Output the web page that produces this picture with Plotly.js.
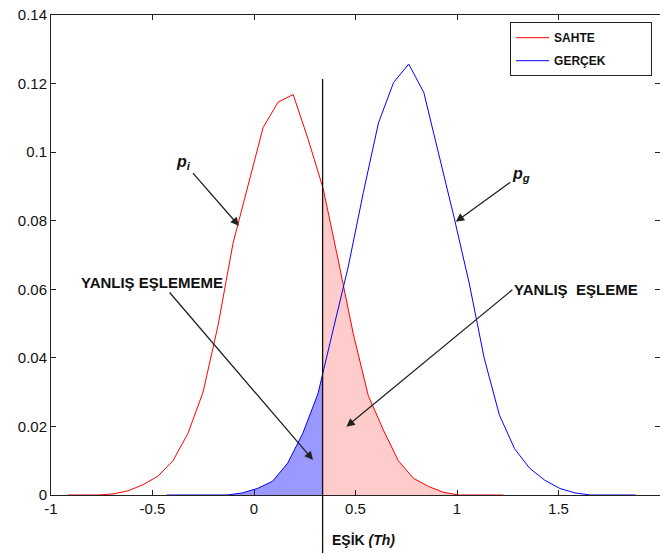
<!DOCTYPE html>
<html>
<head>
<meta charset="utf-8">
<script src="https://cdn.plot.ly/plotly-3.0.1.min.js"></script>
<style>
  html, body { margin: 0; padding: 0; background: #fff; overflow: hidden; }
  #chart { width: 660px; height: 553px; }
</style>
</head>
<body>
<div id="chart"></div>
<script>
// Impostor (SAHTE) score distribution
const sahteX = [-0.917, -0.843, -0.769, -0.695, -0.621, -0.547, -0.473, -0.399, -0.325, -0.251,
                -0.177, -0.103, -0.029, 0.045, 0.119, 0.193, 0.267, 0.341, 0.415, 0.489,
                0.563, 0.637, 0.711, 0.785, 0.859, 0.933, 1.007, 1.081, 1.155, 1.229];
const sahteY = [0, 0, 0, 0.0003, 0.0012, 0.0030, 0.0055, 0.0100, 0.0180, 0.0300,
                0.0495, 0.0735, 0.0905, 0.1072, 0.1146, 0.1168, 0.1037, 0.0893, 0.0685, 0.0470,
                0.0290, 0.0190, 0.0100, 0.0049, 0.0025, 0.0008, 0, 0, 0, 0];

// Genuine (GERÇEK) score distribution
const gercekX = [-0.430, -0.3555, -0.281, -0.2065, -0.132, -0.0575, 0.017, 0.0915, 0.166, 0.2405,
                 0.315, 0.3895, 0.464, 0.5385, 0.613, 0.6875, 0.762, 0.8365, 0.911, 0.9855,
                 1.060, 1.1345, 1.209, 1.2835, 1.358, 1.4325, 1.507, 1.5815, 1.656, 1.7305,
                 1.805, 1.8795];
const gercekY = [0, 0, 0, 0, 0, 0.0006, 0.0019, 0.0040, 0.0093, 0.0180,
                 0.0295, 0.0481, 0.0665, 0.0882, 0.1085, 0.1203, 0.1257, 0.1174, 0.0995, 0.0810,
                 0.0618, 0.0398, 0.0233, 0.0135, 0.0078, 0.0043, 0.0019, 0.0006, 0, 0,
                 0, 0];

// Decision threshold (Th) and the height of its marker line
const esik = 0.338;
const esikTop = 0.1213;

const xTickVals = [-1, -0.5, 0, 0.5, 1, 1.5, 2];
const xTickText = ['-1', '-0.5', '0', '0.5', '1', '1.5', '2'];
const yTickVals = [0, 0.02, 0.04, 0.06, 0.08, 0.1, 0.12, 0.14];
const yTickText = ['0', '0.02', '0.04', '0.06', '0.08', '0.1', '0.12', '0.14'];

// Linear interpolation of a polyline at x = t
function valueAt(xs, ys, t) {
  for (let i = 0; i < xs.length - 1; i++) {
    if (t >= xs[i] && t <= xs[i + 1]) {
      const f = (t - xs[i]) / (xs[i + 1] - xs[i]);
      return ys[i] + f * (ys[i + 1] - ys[i]);
    }
  }
  return 0;
}

// Part of a curve on one side of the threshold, closed at the threshold itself
function sideOf(xs, ys, t, left) {
  const px = [], py = [];
  const yt = valueAt(xs, ys, t);
  if (!left) { px.push(t); py.push(yt); }
  xs.forEach((x, i) => {
    if (left ? x < t : x > t) { px.push(x); py.push(ys[i]); }
  });
  if (left) { px.push(t); py.push(yt); }
  return { x: px, y: py };
}

const fa = sideOf(gercekX, gercekY, esik, true);   // false non-match area
const fe = sideOf(sahteX, sahteY, esik, false);    // false match area

const font = 'Liberation Sans, Arial, sans-serif';
// trailing non-breaking spaces leave room on the right of the legend box
const pad = '&nbsp;'.repeat(12);

const traces = [
  { x: fa.x, y: fa.y, type: 'scatter', mode: 'lines', fill: 'tozeroy',
    fillcolor: '#9999ff', line: { width: 0 }, showlegend: false, hoverinfo: 'skip' },
  { x: fe.x, y: fe.y, type: 'scatter', mode: 'lines', fill: 'tozeroy',
    fillcolor: '#ffcccc', line: { width: 0 }, showlegend: false, hoverinfo: 'skip' },
  { x: sahteX, y: sahteY, type: 'scatter', mode: 'lines', name: 'SAHTE',
    legendgroup: 's', line: { color: '#ff0000', width: 1 } },
  { x: gercekX, y: gercekY, type: 'scatter', mode: 'lines', name: 'GERÇEK' + pad,
    legendgroup: 'g', line: { color: '#0000ff', width: 1 } }
];

// Labels with their pointer arrows
const note = { showarrow: true, arrowhead: 2, arrowsize: 1.3, arrowwidth: 1.3,
               arrowcolor: '#222', standoff: 0, xref: 'x', yref: 'y' };
const bold15 = { family: font, size: 15, color: '#111' };
const pFont = { family: font, size: 16, color: '#111' };

const layout = {
  width: 660, height: 553,
  margin: { l: 51, r: 0, t: 15, b: 58 },
  paper_bgcolor: '#fff', plot_bgcolor: '#fff',
  font: { family: font, size: 15, color: '#111' },
  showlegend: true,
  legend: {
    x: 0.987, y: 0.985, xanchor: 'right', yanchor: 'top',
    bgcolor: '#fff', bordercolor: '#222', borderwidth: 1,
    font: { family: font, size: 12, color: '#111', weight: 'bold' },
    tracegroupgap: 4, itemwidth: 33
  },
  xaxis: {
    range: [-1, 2], tickmode: 'array', tickvals: xTickVals, ticktext: xTickText,
    ticks: 'inside', ticklen: 5, tickcolor: '#222', showgrid: false, zeroline: false,
    showline: true, linecolor: '#222', linewidth: 1, mirror: 'ticks'
  },
  yaxis: {
    range: [0, 0.14], tickmode: 'array', tickvals: yTickVals, ticktext: yTickText,
    ticks: 'inside', ticklen: 5, tickcolor: '#222', showgrid: false, zeroline: false,
    showline: true, linecolor: '#222', linewidth: 1, mirror: 'ticks'
  },
  shapes: [
    { type: 'line', xref: 'x', yref: 'y', x0: esik, x1: esik, y0: 0, y1: esikTop,
      line: { color: '#111', width: 1.3 } },
    { type: 'line', xref: 'x', yref: 'paper', x0: esik, x1: esik, y0: -0.13, y1: 0,
      line: { color: '#111', width: 1.3 } }
  ],
  annotations: [
    Object.assign({}, note, { x: -0.074, y: 0.0785, ax: -55, ay: -63, font: pFont,
      text: '<b><i>p</i></b><sub><b><i>i</i></b></sub>' }),
    Object.assign({}, note, { x: 0.994, y: 0.0797, ax: 65, ay: -47, font: pFont,
      text: '<b><i>p</i></b><sub><b><i>g</i></b></sub>' }),
    Object.assign({}, note, { x: 0.291, y: 0.0102, ax: -161, ay: -188,
      xanchor: 'center', yanchor: 'top', font: bold15, text: '<b>YANLIŞ EŞLEMEME</b>' }),
    Object.assign({}, note, { x: 0.455, y: 0.0199, ax: 166, ay: -137,
      xanchor: 'left', yanchor: 'middle', font: bold15, text: '<b>YANLIŞ  EŞLEME</b>' }),
    { xref: 'x', yref: 'paper', x: esik, y: -0.094, xanchor: 'left', yanchor: 'middle',
      xshift: 7, showarrow: false, font: { family: font, size: 14, color: '#111' },
      text: '<b>EŞİK <i>(Th)</i></b>' }
  ]
};

Plotly.newPlot('chart', traces, layout, { displayModeBar: false, staticPlot: true });
</script>
</body>
</html>
